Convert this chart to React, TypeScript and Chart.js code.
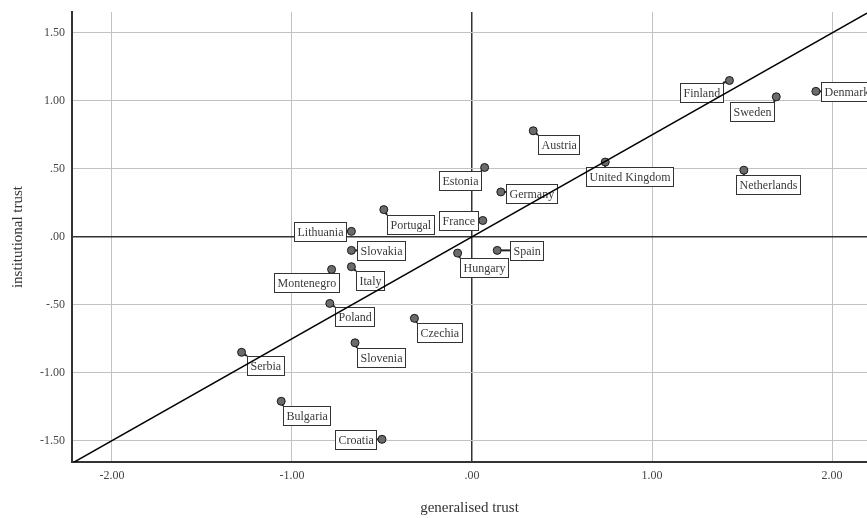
import { useEffect, useRef } from 'react';
import { Chart, registerables } from 'chart.js';

Chart.register(...registerables);

const countries = ['Finland', 'Sweden', 'Denmark', 'Netherlands', 'United Kingdom', 'Austria', 'Estonia', 'Germany', 'France', 'Portugal', 'Lithuania', 'Slovakia', 'Italy', 'Montenegro', 'Poland', 'Czechia', 'Hungary', 'Spain', 'Slovenia', 'Serbia', 'Bulgaria', 'Croatia'];
const generalisedTrust = [1.43, 1.69, 1.91, 1.51, 0.74, 0.34, 0.07, 0.16, 0.06, -0.49, -0.67, -0.67, -0.67, -0.78, -0.79, -0.32, -0.08, 0.14, -0.65, -1.28, -1.06, -0.50];
const institutionalTrust = [1.15, 1.03, 1.07, 0.49, 0.55, 0.78, 0.51, 0.33, 0.12, 0.20, 0.04, -0.10, -0.22, -0.24, -0.49, -0.60, -0.12, -0.10, -0.78, -0.85, -1.21, -1.49];

const xTickValues = [-2, -1, 0, 1, 2];
const yTickValues = [-1.5, -1, -0.5, 0, 0.5, 1, 1.5];
const X_MIN = -2.222;
const X_MAX = 2.194;
const Y_MIN = -1.657;
const Y_MAX = 1.654;
const fitSlope = 0.75;
const fitIntercept = 0.0;

// label box placement relative to each dot: [dx, dy, anchor] (anchor 'l' = box left edge, 'r' = box right edge)
const labelOffsets: [number, number, string][] = [
  [-6, 3, 'r'], [-2, 5, 'r'], [5, -9, 'l'], [-8, 5, 'l'], [-19, 5, 'l'],
  [5, 4, 'l'], [-4, 4, 'r'], [5, -8, 'l'], [-5, -9, 'r'], [3, 5, 'l'],
  [-5, -9, 'r'], [6, -9, 'l'], [5, 4, 'l'], [7, 4, 'r'], [5, 4, 'l'],
  [3, 5, 'l'], [2, 5, 'l'], [13, -9, 'l'], [2, 5, 'l'], [5, 4, 'l'],
  [2, 5, 'l'], [-6, -9, 'r'],
];

const FONT = '"Liberation Serif", "DejaVu Serif", serif';

const fmt = (v: number) => {
  const s = Number(v).toFixed(2);
  return s.replace(/^(-?)0\./, '$1.');
};

const labelPlugin = {
  id: 'boxLabels',
  beforeDatasetsDraw(chart: any) {
    const ctx = chart.ctx;
    const meta = chart.getDatasetMeta(1);
    ctx.save();
    ctx.font = `12px ${FONT}`;
    meta.data.forEach((pt: any, i: number) => {
      const name = countries[i];
      const [dx, dy, anchor] = labelOffsets[i];
      const w = Math.round(ctx.measureText(name).width + 6);
      const h = 19;
      const x = pt.x;
      const y = pt.y;
      const left = Math.round(anchor === 'r' ? x + dx - w : x + dx);
      const top = Math.round(y + dy);
      const nx = Math.min(Math.max(x, left), left + w);
      const ny = Math.min(Math.max(y, top), top + h);
      if (Math.hypot(nx - x, ny - y) > 4.5) {
        ctx.beginPath();
        ctx.moveTo(x, y);
        ctx.lineTo(nx, ny);
        ctx.strokeStyle = '#222';
        ctx.lineWidth = 2;
        ctx.stroke();
      }
      ctx.fillStyle = '#ffffff';
      ctx.fillRect(left, top, w, h);
      ctx.strokeStyle = '#333';
      ctx.lineWidth = 1;
      ctx.strokeRect(left + 0.5, top + 0.5, w, h);
      ctx.fillStyle = '#3a3a3a';
      ctx.textBaseline = 'middle';
      ctx.textAlign = 'left';
      ctx.fillText(name, left + 3.5, top + h / 2 + 1);
    });
    ctx.restore();
  },
};

export default function App() {
  const ref = useRef<HTMLCanvasElement | null>(null);
  useEffect(() => {
    if (!ref.current) return;
    Chart.defaults.font.family = FONT;
    const points = generalisedTrust.map((g, i) => ({ x: g, y: institutionalTrust[i] }));
    const fit = [X_MIN, X_MAX].map((x) => ({ x, y: fitSlope * x + fitIntercept }));
    const chart = new Chart(ref.current, {
      type: 'scatter',
      data: {
        datasets: [
          {
            label: 'fit',
            data: fit,
            showLine: true,
            borderColor: '#000',
            borderWidth: 1.5,
            pointRadius: 0,
          } as any,
          {
            label: 'countries',
            data: points,
            pointRadius: 4,
            pointBackgroundColor: '#6b6b6b',
            pointBorderColor: '#1a1a1a',
            pointBorderWidth: 1,
          },
        ],
      },
      options: {
        animation: false,
        responsive: true,
        maintainAspectRatio: false,
        layout: { autoPadding: false, padding: { top: 12, left: 0, right: 0, bottom: 0 } },
        plugins: { legend: { display: false }, tooltip: { enabled: false } },
        scales: {
          x: {
            type: 'linear',
            min: X_MIN,
            max: X_MAX,
            afterBuildTicks: (s: any) => {
              s.ticks = xTickValues.map((v) => ({ value: v }));
            },
            afterFit: (s: any) => {
              s.height = 56;
              s.paddingLeft = 0;
              s.paddingRight = 0;
            },
            ticks: { callback: (v: any) => fmt(v), font: { size: 12, family: FONT }, color: '#444', padding: 7, maxRotation: 0 },
            grid: {
              drawTicks: false,
              color: (c: any) => (c.tick && c.tick.value === 0 ? '#333' : '#c2c2c2'),
              lineWidth: (c: any) => (c.tick && c.tick.value === 0 ? 1.5 : 1),
            },
            border: { color: '#333', width: 2 },
            title: { display: true, text: 'generalised trust', font: { size: 15, family: FONT }, color: '#333', padding: { top: 4, bottom: 1 } },
          },
          y: {
            type: 'linear',
            min: Y_MIN,
            max: Y_MAX,
            afterBuildTicks: (s: any) => {
              s.ticks = yTickValues.map((v) => ({ value: v }));
            },
            afterFit: (s: any) => {
              s.width = 72;
              s.paddingTop = 0;
              s.paddingBottom = 0;
            },
            ticks: { callback: (v: any) => fmt(v), font: { size: 12, family: FONT }, color: '#444', padding: 7 },
            grid: {
              drawTicks: false,
              color: (c: any) => (c.tick && c.tick.value === 0 ? '#333' : '#c2c2c2'),
              lineWidth: (c: any) => (c.tick && c.tick.value === 0 ? 1.5 : 1),
            },
            border: { color: '#333', width: 2 },
            title: { display: true, text: 'institutional trust', font: { size: 15, family: FONT }, color: '#333', padding: { top: 9, bottom: 4 } },
          },
        },
      },
      plugins: [labelPlugin],
    });
    return () => chart.destroy();
  }, []);
  return (
    <div style={{ position: 'fixed', left: 0, top: 0, width: 867, height: 518, background: '#fff' }}>
      <canvas ref={ref} />
    </div>
  );
}
